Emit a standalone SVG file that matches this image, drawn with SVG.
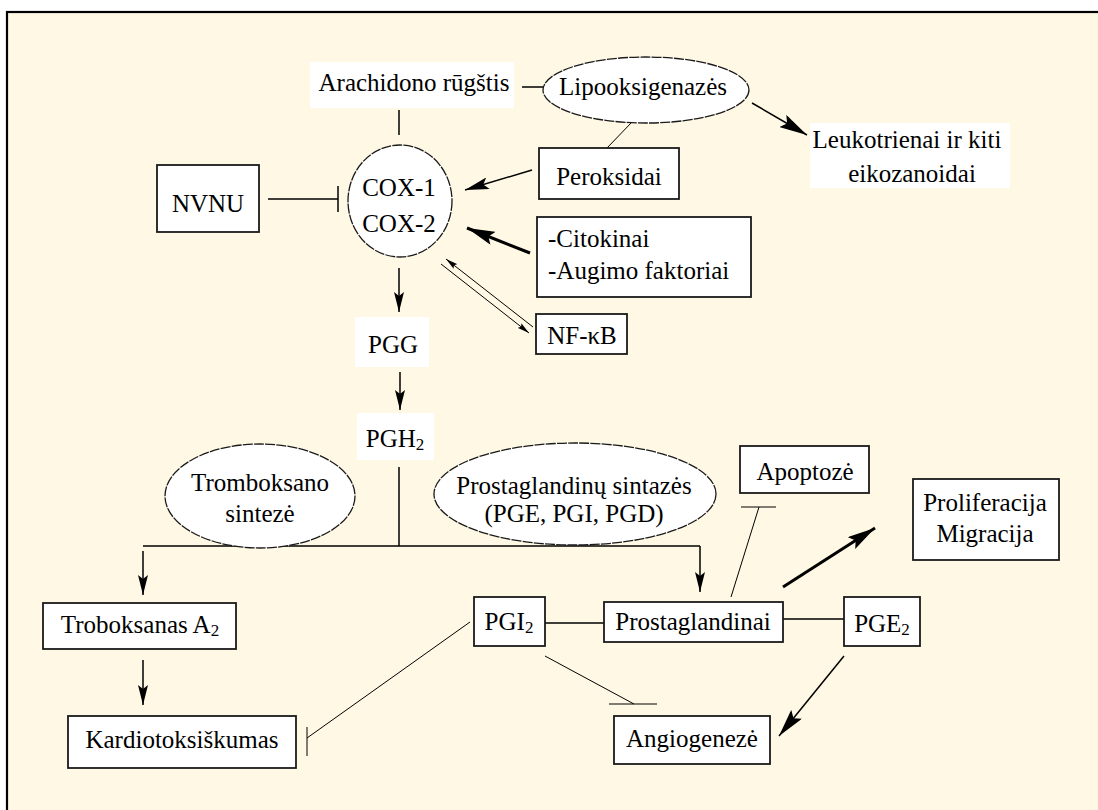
<svg xmlns="http://www.w3.org/2000/svg" width="1098" height="810" viewBox="0 0 1098 810">
<defs>
<style>
.t{font-family:'Liberation Serif','Times New Roman','DejaVu Serif',serif;font-size:25px;fill:#000;text-anchor:middle}
.box{fill:#fff;stroke:#1a1a1a;stroke-width:1.8}
.ell{fill:#fff;stroke:#1a1a1a;stroke-width:1.3;stroke-dasharray:10 1.2}
.wbg{fill:#fff}
.ln{stroke:#000;stroke-width:1.5;fill:none}
.thin{stroke-width:1}
.thick{stroke-width:3}
.sub{font-size:17px}
.st{text-anchor:start}
</style>
<marker id="ah" viewBox="0 0 20 10" markerWidth="20" markerHeight="10" refX="20" refY="5" orient="auto" markerUnits="userSpaceOnUse"><path d="M0,0 L20,5 L0,10 L4,5 z" fill="#000"/></marker>
<marker id="ahM" viewBox="0 0 24 12" markerWidth="24" markerHeight="12" refX="24" refY="6" orient="auto" markerUnits="userSpaceOnUse"><path d="M0,0 L24,6 L0,12 L5,6 z" fill="#000"/></marker>
<marker id="ahB" viewBox="0 0 28 14" markerWidth="28" markerHeight="14" refX="28" refY="7" orient="auto" markerUnits="userSpaceOnUse"><path d="M0,0 L28,7 L0,14 L5,7 z" fill="#000"/></marker>
<marker id="ahS" viewBox="0 0 12 6" markerWidth="12" markerHeight="6" refX="12" refY="3" orient="auto" markerUnits="userSpaceOnUse"><path d="M0,0 L12,3 L0,6 L2,3 z" fill="#000"/></marker>
</defs>
<rect x="7" y="12" width="1200" height="900" fill="#FFF8E4" stroke="#000" stroke-width="2.2"/>

<g id="connectors">
<line class="ln" x1="522" y1="87" x2="543" y2="87"/>
<line class="ln" x1="399" y1="110" x2="399" y2="135"/>
<line class="ln" x1="268" y1="199" x2="338" y2="199"/>
<line class="ln" x1="338" y1="186" x2="338" y2="212"/>
<line class="ln thin" x1="632" y1="122" x2="607" y2="148"/>
<line class="ln" x1="532" y1="170" x2="465" y2="190" marker-end="url(#ahM)"/>
<line class="ln thick" x1="530" y1="253" x2="467" y2="228" marker-end="url(#ahB)"/>
<line class="ln" x1="752" y1="103" x2="807" y2="135" marker-end="url(#ahB)"/>
<line class="ln thin" x1="533" y1="327" x2="446" y2="259" marker-end="url(#ahS)"/>
<line class="ln thin" x1="441" y1="264" x2="529" y2="333" marker-end="url(#ahS)"/>
<line class="ln" x1="399" y1="268" x2="399" y2="312" marker-end="url(#ah)"/>
<line class="ln" x1="400" y1="372" x2="400" y2="410" marker-end="url(#ah)"/>
<line class="ln" x1="399" y1="467" x2="399" y2="546"/>
<line class="ln" x1="143" y1="546" x2="700" y2="546"/>
<line class="ln" x1="143" y1="551" x2="143" y2="595" marker-end="url(#ah)"/>
<line class="ln" x1="700" y1="546" x2="700" y2="592" marker-end="url(#ah)"/>
<line class="ln" x1="143" y1="660" x2="143" y2="705" marker-end="url(#ah)"/>
<line class="ln thin" x1="470" y1="622" x2="307" y2="738"/>
<line class="ln thin" x1="307" y1="727" x2="307" y2="756"/>
<line class="ln" x1="545" y1="623" x2="604" y2="623"/>
<line class="ln" x1="783" y1="619" x2="844" y2="619"/>
<line class="ln thin" x1="731" y1="597" x2="759" y2="507"/>
<line class="ln thin" x1="741" y1="507" x2="776" y2="507"/>
<line class="ln thick" x1="783" y1="587" x2="875" y2="528" marker-end="url(#ahB)"/>
<line class="ln thin" x1="545" y1="656" x2="634" y2="704"/>
<line class="ln thin" x1="609" y1="704" x2="657" y2="704"/>
<line class="ln" x1="844" y1="656" x2="779" y2="736" stroke-width="2.5" marker-end="url(#ahB)"/>
</g>

<g font-family="Liberation Serif, Times New Roman, serif">
<g id="arachidono"><rect class="wbg" x="310" y="62" width="204" height="46"/><text class="t" x="414" y="91">Arachidono rūgštis</text></g>
<g id="lipooksigenazes"><ellipse class="ell" cx="646" cy="90" rx="103" ry="33"/><text class="t" x="643" y="95">Lipooksigenazės</text></g>
<g id="leukotrienai"><rect class="wbg" x="810" y="123" width="200" height="65"/><text class="t" x="907" y="148">Leukotrienai ir kiti</text><text class="t" x="912" y="182">eikozanoidai</text></g>
<g id="cox"><ellipse class="ell" cx="400" cy="201" rx="52" ry="56"/><text class="t" x="399" y="196">COX-1</text><text class="t" x="399" y="232">COX-2</text></g>
<g id="nvnu"><rect class="box" x="157" y="165" width="102" height="67"/><text class="t" x="208" y="212">NVNU</text></g>
<g id="peroksidai"><rect class="box" x="539" y="148" width="140" height="51"/><text class="t" x="609" y="185">Peroksidai</text></g>
<g id="citokinai"><rect class="box" x="537" y="217" width="214" height="80"/><text class="t st" x="548" y="247">-Citokinai</text><text class="t st" x="548" y="279">-Augimo faktoriai</text></g>
<g id="nfkb"><rect class="box" x="536" y="314" width="91" height="40"/><text class="t" x="582" y="344">NF-κB</text></g>
<g id="pgg"><rect class="wbg" x="355" y="317" width="74" height="50"/><text class="t" x="393" y="353">PGG</text></g>
<g id="pgh2"><rect class="wbg" x="357" y="413" width="77" height="47"/><text class="t" x="395" y="447">PGH<tspan class="sub" dy="3">2</tspan></text></g>
<g id="tromboksano-sinteze"><ellipse class="ell" cx="260" cy="496" rx="95" ry="52"/><text class="t" x="260" y="491">Tromboksano</text><text class="t" x="260" y="522">sintezė</text></g>
<g id="prostaglandinu-sintazes"><ellipse class="ell" cx="575" cy="494" rx="141" ry="51"/><text class="t" x="574" y="494">Prostaglandinų sintazės</text><text class="t" x="574" y="522">(PGE, PGI, PGD)</text></g>
<g id="apoptoze"><rect class="box" x="740" y="446" width="129" height="47"/><text class="t" x="805" y="480">Apoptozė</text></g>
<g id="proliferacija"><rect class="box" x="913" y="479" width="146" height="81"/><text class="t" x="985" y="511">Proliferacija</text><text class="t" x="985" y="542">Migracija</text></g>
<g id="troboksanas"><rect class="box" x="43" y="603" width="193" height="46"/><text class="t" x="140" y="633">Troboksanas A<tspan class="sub" dy="3">2</tspan></text></g>
<g id="pgi2"><rect class="box" x="474" y="597" width="71" height="49"/><text class="t" x="509" y="630">PGI<tspan class="sub" dy="3">2</tspan></text></g>
<g id="prostaglandinai"><rect class="box" x="604" y="602" width="179" height="40"/><text class="t" x="693" y="630">Prostaglandinai</text></g>
<g id="pge2"><rect class="box" x="844" y="597" width="76" height="49"/><text class="t" x="882" y="632">PGE<tspan class="sub" dy="3">2</tspan></text></g>
<g id="kardiotoksiskumas"><rect class="box" x="68" y="716" width="228" height="52"/><text class="t" x="182" y="748">Kardiotoksiškumas</text></g>
<g id="angiogeneze"><rect class="box" x="614" y="716" width="156" height="48"/><text class="t" x="692" y="747">Angiogenezė</text></g>
</g>
</svg>
